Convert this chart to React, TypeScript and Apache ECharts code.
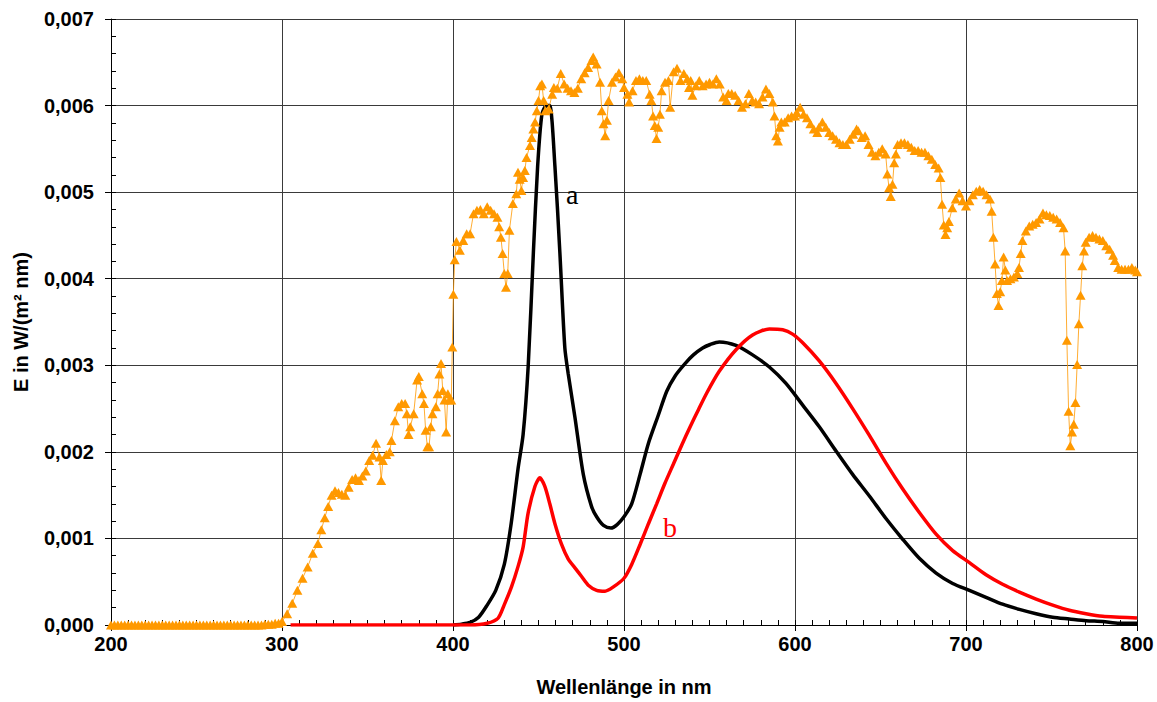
import React, { useEffect, useRef } from "react";
import * as echarts from "echarts";

// Orange series (triangles): wavelength (nm) and irradiance
const sunNm = [
  200, 202, 204, 206, 208, 210, 212, 214, 216, 218, 220, 222, 224, 226, 228, 230, 232, 234, 236, 238,
  240, 242, 244, 246, 248, 250, 252, 254, 256, 258, 260, 262, 264, 266, 268, 270, 272, 274, 276, 278,
  280, 282, 284, 286, 288, 290, 292, 294, 296, 298,
  300, 303, 306, 309, 312, 315, 318, 321, 323, 325, 327, 329, 331, 333, 335, 337, 339, 341, 343, 345,
  347, 349, 351, 353, 355, 357, 358, 359, 361, 363, 364, 366, 368, 370, 372, 373, 374, 375, 377, 379,
  380, 382, 383, 384, 385, 386, 387, 388, 390, 391, 392, 393, 394, 395, 396, 397, 398, 399, 399.6, 400.2,
  401, 402, 404, 406, 408, 410, 412, 414, 416, 418, 420, 422, 424, 426, 427, 428, 429, 430, 431, 432,
  433, 435, 437, 438, 439, 440, 441, 442, 443, 445, 446, 447, 448, 449, 450, 451, 452, 453, 454, 456,
  458, 459, 461, 463, 465, 467, 469, 471, 473, 475, 477, 479, 481, 482, 484, 486, 487, 488, 489, 490,
  491, 493, 495, 497, 499, 500, 502, 503, 505, 507, 509, 511, 513, 515, 516, 517, 518, 519, 520, 521,
  522, 524, 526, 527, 529, 531, 533, 535, 537, 538, 539, 540, 542, 544, 546, 548, 550, 552, 554, 556,
  558, 560, 561, 563, 565, 567, 569, 571, 573, 575, 577, 579, 581, 583, 585, 587, 588, 589, 590, 591,
  592, 594, 596, 598, 600, 601, 603, 605, 607, 609, 611, 613, 614, 616, 618, 620, 622, 624, 626, 628,
  630, 632, 634, 636, 637, 639, 641, 643, 645, 647, 649, 651, 653, 654, 655, 656, 657, 658, 659, 660,
  662, 664, 666, 668, 670, 672, 674, 676, 678, 680, 682, 684, 685, 686, 687, 688, 689, 690, 692, 694,
  696, 698, 700, 702, 704, 706, 708, 710, 712, 714, 715, 716, 717, 718, 719, 720, 721, 722, 723, 724,
  726, 728, 730, 731, 732, 733, 735, 737, 739, 741, 743, 745, 747, 749, 751, 753, 755, 757, 758, 759,
  760, 761, 762, 763, 764, 765, 766, 767, 768, 769, 770, 772, 774, 776, 778, 780, 782, 784, 786, 787,
  789, 791, 793, 795, 797, 799, 800,
];
const sunE = [
  0, 0, 0, 0, 0, 0, 0, 0, 0, 0, 0, 0, 0, 0, 0, 0, 0, 0, 0, 0,
  0, 0, 0, 0, 0, 0, 0, 0, 0, 0, 0, 0, 0, 0, 0, 0, 0, 0, 0, 0,
  0, 0, 0, 0, 0, 0.00001, 0.00001, 0.00001, 0.00002, 0.00002,
  0.00004, 0.00013, 0.00025, 0.0004, 0.00054, 0.00067, 0.00083, 0.00094, 0.0011, 0.00124, 0.00137, 0.0015, 0.00155, 0.00153, 0.00151, 0.0015, 0.00159, 0.00168, 0.0017, 0.00167,
  0.00172, 0.00178, 0.0019, 0.00196, 0.0021, 0.00194, 0.00167, 0.0019, 0.00197, 0.002, 0.00213, 0.00236, 0.00252, 0.00256, 0.00256, 0.00244, 0.0022, 0.00229, 0.00244, 0.00283,
  0.00287, 0.00267, 0.00256, 0.00225, 0.00206, 0.00206, 0.00229, 0.00244, 0.00252, 0.00267, 0.0029, 0.00302, 0.00271, 0.0026, 0.00223, 0.00267, 0.0026, 0.0026, 0.00321, 0.00382,
  0.00422, 0.00443, 0.00433, 0.00444, 0.00452, 0.00452, 0.00475, 0.00479, 0.0048, 0.00475, 0.00483, 0.00479, 0.00475, 0.00471, 0.0046, 0.00448, 0.00429, 0.00406, 0.0039, 0.00406,
  0.00456, 0.00487, 0.00498, 0.00523, 0.00515, 0.00502, 0.00517, 0.00525, 0.0054, 0.00554, 0.00563, 0.00573, 0.00581, 0.00594, 0.00606, 0.00623, 0.00625, 0.00606, 0.00594, 0.00596,
  0.00613, 0.00621, 0.0062, 0.00637, 0.00625, 0.0062, 0.00617, 0.00615, 0.0062, 0.00631, 0.00638, 0.00644, 0.00652, 0.00656, 0.00648, 0.00627, 0.00594, 0.00579, 0.00565, 0.00583,
  0.00606, 0.00627, 0.00633, 0.00638, 0.00631, 0.00621, 0.00613, 0.00604, 0.00617, 0.00629, 0.00631, 0.00629, 0.00629, 0.00613, 0.00606, 0.00588, 0.00577, 0.00562, 0.00575, 0.0059,
  0.00617, 0.00627, 0.00629, 0.00598, 0.00639, 0.00643, 0.00629, 0.00637, 0.00631, 0.00621, 0.00629, 0.00612, 0.00623, 0.00629, 0.00623, 0.00625, 0.00627, 0.00625, 0.00631, 0.00625,
  0.0061, 0.00606, 0.00614, 0.00614, 0.00612, 0.00606, 0.00598, 0.00602, 0.00614, 0.00606, 0.00604, 0.00602, 0.0061, 0.00619, 0.00614, 0.00604, 0.00588, 0.00565, 0.00559, 0.00575,
  0.00581, 0.00581, 0.00586, 0.00588, 0.00588, 0.00592, 0.00598, 0.0059, 0.00586, 0.00579, 0.00573, 0.00569, 0.00575, 0.00581, 0.00575, 0.00569, 0.00565, 0.00561, 0.00557, 0.00555,
  0.00555, 0.00561, 0.00567, 0.00573, 0.00571, 0.00563, 0.00565, 0.00555, 0.00546, 0.00542, 0.00546, 0.0055, 0.00544, 0.00521, 0.00505, 0.00495, 0.00509, 0.00534, 0.00544, 0.00555,
  0.00557, 0.00557, 0.00555, 0.00552, 0.00548, 0.00548, 0.00546, 0.00546, 0.00542, 0.00538, 0.00532, 0.00528, 0.00517, 0.00486, 0.00462, 0.00451, 0.00459, 0.00466, 0.00482, 0.00492,
  0.00499, 0.0049, 0.00484, 0.0049, 0.00497, 0.00501, 0.00503, 0.00501, 0.00497, 0.00492, 0.00478, 0.00448, 0.00417, 0.00383, 0.00369, 0.00385, 0.00398, 0.00425, 0.0041, 0.00398,
  0.004, 0.00402, 0.00406, 0.00413, 0.00429, 0.00444, 0.00455, 0.00461, 0.00463, 0.00465, 0.00469, 0.00476, 0.00474, 0.00473, 0.00471, 0.00469, 0.00465, 0.00459, 0.00432, 0.00329,
  0.00247, 0.00207, 0.00223, 0.00232, 0.00257, 0.00301, 0.00348, 0.00381, 0.00415, 0.00432, 0.00442, 0.00448, 0.0045, 0.00448, 0.00446, 0.00444, 0.00438, 0.00434, 0.00427, 0.00421,
  0.00413, 0.00411, 0.00411, 0.00411, 0.00413, 0.0041, 0.00408,
];

// Black curve "a"
const aNm = [
  400, 405, 410, 415, 420, 425, 430, 434, 438, 441, 444, 447, 449.5, 452, 454.7, 456.6, 459.6, 462.5, 465.4, 467.4,
  471.3, 476.2, 481, 484, 488, 492.4, 496, 500, 504.5, 509.4, 514.3, 520, 525, 530, 535.7, 540.6, 546, 550.4, 555.7, 565.5,
  575.2, 585, 594.7, 604.5, 614.2, 624, 633.7, 643.5, 653.2, 663, 672.7, 682.5, 692.2, 702, 711.7, 721.4, 731.2, 741, 750.7, 760.4,
  770.2, 780, 789.7, 800,
];
const aE = [
  0, 0.00001, 0.00003, 0.00009, 0.00023, 0.0004, 0.0007, 0.00117, 0.0018, 0.0022, 0.003, 0.0043, 0.0053, 0.0059, 0.006, 0.006, 0.0053, 0.0043, 0.0032, 0.0029,
  0.0024, 0.00174, 0.00137, 0.00125, 0.00115, 0.00112, 0.00116, 0.00125, 0.0014, 0.00174, 0.0021, 0.00242, 0.0027, 0.00288, 0.00302, 0.00312, 0.0032, 0.00324, 0.00327, 0.00323,
  0.00312, 0.00298, 0.00279, 0.00254, 0.00229, 0.00201, 0.00174, 0.00149, 0.00123, 0.00099, 0.00077, 0.0006, 0.00048, 0.0004, 0.00032, 0.00024, 0.00018, 0.00013, 0.00009, 0.00007,
  0.00005, 0.00004, 0.00002, 0.00002,
];

// Red curve "b"
const bNm = [
  305, 350, 400, 410, 420, 426.4, 429.9, 434.2, 438.1, 441, 443.9, 447.9, 450.8, 453.7, 456.6, 459.6, 463.5, 467.4, 471.3, 475.2,
  479.1, 484, 488.9, 493.8, 500, 504.5, 509.4, 514.3, 519.1, 524, 528.9, 533.8, 538.7, 543.6, 548.4, 555.7, 565.5, 575.2, 585, 592.8,
  598.6, 604.5, 614.2, 624, 633.7, 643.5, 653.2, 663, 672.7, 682.5, 692.2, 702, 711.7, 721.4, 731.2, 741, 750.7, 760.4, 770.2,
  780, 789.7, 800,
];
const bE = [
  0, 0, 0, 0, 0.00002, 0.00008, 0.00023, 0.00044, 0.00068, 0.0009, 0.00129, 0.0016, 0.0017, 0.0016, 0.0014, 0.00117, 0.00093, 0.00076, 0.00066, 0.00056,
  0.00046, 0.0004, 0.00039, 0.00044, 0.00054, 0.0007, 0.00093, 0.00117, 0.0014, 0.00164, 0.00186, 0.00208, 0.00229, 0.00249, 0.00268, 0.00293, 0.00318, 0.00335, 0.00342, 0.00341,
  0.00336, 0.00326, 0.00305, 0.00279, 0.0025, 0.00219, 0.00187, 0.00157, 0.0013, 0.00105, 0.00086, 0.00072, 0.00058, 0.00047, 0.00038, 0.0003, 0.00023, 0.00017, 0.00013,
  0.0001, 0.00009, 0.00008,
];

const xTitle = "Wellenlänge in nm";
const yTitle = "E in W/(m² nm)";

const pairs = (xs: number[], ys: number[]) => xs.map((x, i) => [x, ys[i]]);

export default function App() {
  const ref = useRef<HTMLDivElement>(null);
  useEffect(() => {
    document.body.style.margin = "0";
    const chart = echarts.init(ref.current!, undefined, { renderer: "svg" });
    const tickFont = { fontFamily: "Liberation Sans", fontWeight: "bold" as const, fontSize: 20, color: "#000" };
    const titleFont = { fontFamily: "Liberation Sans", fontWeight: "bold" as const, fontSize: 20, color: "#000" };
    chart.setOption({
      animation: false,
      backgroundColor: "#fff",
      grid: { left: 111, right: 20, top: 19, bottom: 75, containLabel: false },
      xAxis: [
        {
          type: "value",
          min: 200,
          max: 800,
          interval: 100,
          axisLine: { show: true, lineStyle: { color: "#000", width: 1 } },
          axisTick: { show: true, inside: false, length: 6, lineStyle: { color: "#000" } },
          axisLabel: { ...tickFont, margin: 9 },
          splitLine: { show: true, lineStyle: { color: "#3a3a3a", width: 1 } },
          name: xTitle,
          nameLocation: "middle",
          nameGap: 52,
          nameTextStyle: titleFont,
        },
        {
          type: "value",
          min: 200,
          max: 800,
          interval: 100,
          position: "bottom",
          axisLine: { show: false },
          axisTick: { show: true, inside: true, length: 5, lineStyle: { color: "#000" } },
          minorTick: { show: true, splitNumber: 10, length: 5, lineStyle: { color: "#000" } },
          axisLabel: { show: false },
          splitLine: { show: false },
        },
      ],
      yAxis: [
        {
          type: "value",
          min: 0,
          max: 0.007,
          interval: 0.001,
          axisLine: { show: true, lineStyle: { color: "#000", width: 1 } },
          axisTick: { show: true, inside: false, length: 6, lineStyle: { color: "#000" } },
          axisLabel: {
            ...tickFont,
            margin: 17,
            formatter: (v: number) => v.toFixed(3).replace(".", ","),
          },
          splitLine: { show: true, lineStyle: { color: "#3a3a3a", width: 1 } },
          name: yTitle,
          nameLocation: "middle",
          nameGap: 80,
          nameTextStyle: titleFont,
        },
        {
          type: "value",
          min: 0,
          max: 0.007,
          interval: 0.001,
          position: "left",
          axisLine: { show: false },
          axisTick: { show: true, inside: true, length: 5, lineStyle: { color: "#000" } },
          minorTick: { show: true, splitNumber: 5, length: 5, lineStyle: { color: "#000" } },
          axisLabel: { show: false },
          splitLine: { show: false },
        },
      ],
      series: [
        {
          // invisible carrier so the tick-only overlay axes are not blank
          type: "line",
          xAxisIndex: 1,
          yAxisIndex: 1,
          data: pairs(sunNm, sunE),
          symbol: "none",
          silent: true,
          lineStyle: { opacity: 0 },
          z: 0,
        },
        {
          type: "line",
          xAxisIndex: 0,
          yAxisIndex: 0,
          data: pairs(aNm, aE),
          symbol: "none",
          smooth: 0.25,
          lineStyle: { color: "#000", width: 3.5 },
          z: 2,
        },
        {
          type: "line",
          xAxisIndex: 0,
          yAxisIndex: 0,
          data: pairs(bNm, bE),
          symbol: "none",
          smooth: 0.25,
          lineStyle: { color: "#ff0000", width: 3.5 },
          z: 3,
        },
        {
          type: "line",
          xAxisIndex: 0,
          yAxisIndex: 0,
          data: pairs(sunNm, sunE),
          symbol: "triangle",
          symbolSize: [10, 9],
          itemStyle: { color: "#ff9900" },
          lineStyle: { color: "#ff9900", width: 1, opacity: 0.8 },
          z: 4,
        },
      ],
      graphic: [
        {
          type: "text",
          left: 566,
          top: 180,
          style: { text: "a", fontFamily: "Liberation Serif", fontSize: 28, fill: "#000" },
          z: 10,
        },
        {
          type: "text",
          left: 663,
          top: 513,
          style: { text: "b", fontFamily: "Liberation Serif", fontSize: 28, fill: "#ff0000" },
          z: 10,
        },
      ],
    });
    return () => chart.dispose();
  }, []);
  return <div ref={ref} style={{ width: 1157, height: 702 }} />;
}
